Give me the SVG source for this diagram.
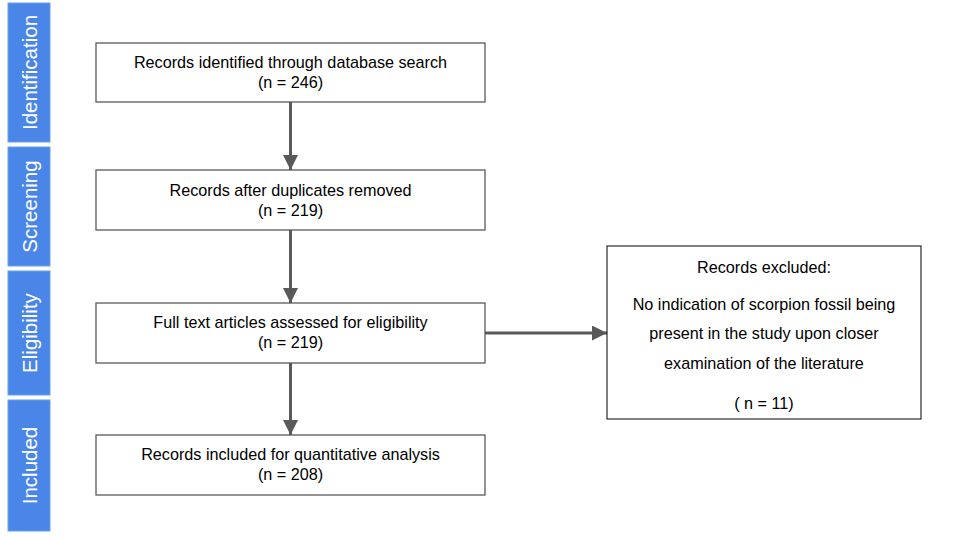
<svg xmlns="http://www.w3.org/2000/svg" width="970" height="542" viewBox="0 0 970 542">
<style>
.bar{fill:#4a86e8;stroke:#6d9eeb;stroke-width:1}
.bt{fill:#ffffff;font-family:"Liberation Sans",Arial,sans-serif;font-size:20.5px;text-anchor:middle}
.box{fill:#ffffff;stroke:#595959;stroke-width:1.3}
.t{fill:#000000;font-family:"Liberation Sans",Arial,sans-serif;font-size:16.2px;text-anchor:middle}
.c{stroke:#595959;stroke-width:3;fill:none}
</style>
<defs>
<marker id="ah" viewBox="0 0 10 10" refX="10" refY="5" markerWidth="6.5" markerHeight="5" markerUnits="strokeWidth" orient="auto">
<path d="M0,0 L10,5 L0,10 z" fill="#595959"/>
</marker>
</defs>
<rect width="970" height="542" fill="#ffffff"/>
<g id="stage-identification"><rect class="bar" x="8" y="3" width="42" height="139"/><text class="bt" transform="translate(37,72.5) rotate(-90)">Identification</text></g>
<g id="stage-screening"><rect class="bar" x="8" y="147" width="42" height="119"/><text class="bt" transform="translate(37,206.5) rotate(-90)">Screening</text></g>
<g id="stage-eligibility"><rect class="bar" x="8" y="271" width="42" height="124"/><text class="bt" transform="translate(37,333) rotate(-90)">Eligibility</text></g>
<g id="stage-included"><rect class="bar" x="8" y="400" width="42" height="131"/><text class="bt" transform="translate(37,465.5) rotate(-90)">Included</text></g>
<g id="connectors">
<line class="c" x1="290.5" y1="102" x2="290.5" y2="170" marker-end="url(#ah)"/>
<line class="c" x1="290.5" y1="230" x2="290.5" y2="303" marker-end="url(#ah)"/>
<line class="c" x1="290.5" y1="363" x2="290.5" y2="435" marker-end="url(#ah)"/>
<line class="c" x1="485" y1="333" x2="607" y2="333" marker-end="url(#ah)"/>
</g>
<g id="n1"><rect class="box" x="96" y="43" width="389" height="59"/><text class="t" x="290.5" y="68">Records identified through database search</text><text class="t" x="290.5" y="88">(n = 246)</text></g>
<g id="n2"><rect class="box" x="96" y="170" width="389" height="60"/><text class="t" x="290.5" y="196">Records after duplicates removed</text><text class="t" x="290.5" y="216">(n = 219)</text></g>
<g id="n3"><rect class="box" x="96" y="303" width="389" height="60"/><text class="t" x="290.5" y="328">Full text articles assessed for eligibility</text><text class="t" x="290.5" y="348">(n = 219)</text></g>
<g id="n4"><rect class="box" x="96" y="435" width="389" height="60"/><text class="t" x="290.5" y="460">Records included for quantitative analysis</text><text class="t" x="290.5" y="480">(n = 208)</text></g>
<g id="excluded"><rect x="607" y="246" width="314" height="173" fill="#ffffff" stroke="#000000" stroke-width="1"/>
<text class="t" x="764" y="273">Records excluded:</text>
<text class="t" x="764" y="310">No indication of scorpion fossil being</text>
<text class="t" x="764" y="339">present in the study upon closer</text>
<text class="t" x="764" y="369">examination of the literature</text>
<text class="t" x="764" y="409">( n = 11)</text></g>
</svg>
